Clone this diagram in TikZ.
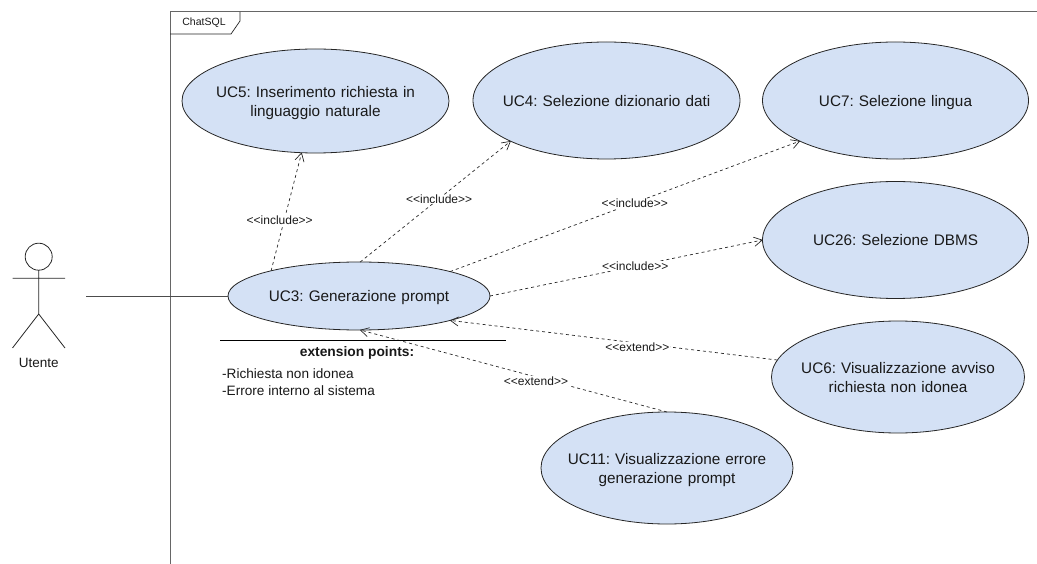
\documentclass[tikz,border=0pt]{standalone}
\usepackage{fontspec}
\setmainfont{Liberation Sans}
\usetikzlibrary{arrows.meta,shapes.geometric}
\definecolor{ucfill}{HTML}{D4E1F5}
\definecolor{framec}{HTML}{666666}
\frenchspacing
\newcommand{\uctext}[1]{\raisebox{-5.4pt}[0pt][0pt]{\begin{tabular}[c]{@{}c@{}}#1\end{tabular}}}
\tikzset{
  x=1pt,y=-1pt,
  uc/.style={ellipse,draw=black!85,fill=ucfill,line width=.8pt,inner sep=0pt,outer sep=0pt,
    font=\fontsize{15.3}{19}\selectfont,text=black!90,text width=0pt,align=center},
  dep/.style={draw=black!85,line width=.7pt,dash pattern=on 3pt off 3pt,-{Straight Barb[length=8pt,width=9pt,line width=.7pt,round]}},
  lab/.style={font=\fontsize{12}{14}\selectfont,fill=white,inner sep=.5pt,text=black!90},
  txt/.style={font=\fontsize{13.6}{17}\selectfont,text=black!90,inner sep=0pt},
  assoc/.style={draw=black!70,line width=.9pt},
  stick/.style={draw=black!85,line width=.8pt},
}
\begin{document}
\begin{tikzpicture}
\useasboundingbox (0,0) rectangle (1037,564);
% frame
\draw[framec,line width=1pt] (170,564) -- (170,12) -- (1037,12);
\draw[black!85,line width=.7pt] (170,34) -- (231,34) -- (240,21) -- (240,12);
\node[font=\fontsize{10.5}{12}\selectfont,inner sep=0pt,text=black!90] (sys) at (204,23) {ChatSQL};
% use cases
\node[uc,minimum width=267pt,minimum height=104pt] (uc5) at (315.5,101) {\makebox[0pt]{\uctext{UC5: Inserimento richiesta in\\linguaggio naturale}}};
\node[uc,minimum width=267pt,minimum height=117pt] (uc4) at (606.5,100.5) {\makebox[0pt]{\uctext{UC4: Selezione dizionario dati}}};
\node[uc,minimum width=266pt,minimum height=117pt] (uc7) at (895.5,100.5) {\makebox[0pt]{\uctext{UC7: Selezione lingua}}};
\node[uc,minimum width=266pt,minimum height=117pt] (uc26) at (895.5,240) {\makebox[0pt]{\uctext{UC26: Selezione DBMS}}};
\node[uc,minimum width=253pt,minimum height=112pt] (uc6) at (898,377) {\makebox[0pt]{\uctext{UC6: Visualizzazione avviso\\richiesta non idonea}}};
\node[uc,minimum width=252pt,minimum height=112pt] (uc11) at (667,468) {\makebox[0pt]{\uctext{UC11: Visualizzazione errore\\generazione prompt}}};
\node[uc,minimum width=262pt,minimum height=68pt] (uc3) at (359,296) {\makebox[0pt]{\raisebox{-.6pt}{\uctext{UC3: Generazione prompt}}}};
% actor
\node[circle,stick,minimum size=27pt,inner sep=0pt,outer sep=0pt] (head) at (38.7,256.7) {};
\coordinate (hip) at (38.7,314);
\coordinate (shl) at (12.5,278.3);
\coordinate (shr) at (65,278.3);
\coordinate (ftl) at (12.5,348);
\coordinate (ftr) at (65,348);
\draw[stick] (head.south) -- (hip) (shl) -- (shr) (ftl) -- (hip) -- (ftr);
\node[font=\fontsize{13.5}{16}\selectfont,inner sep=0pt,text=black!90] (utente) at (38.7,363) {Utente};
\coordinate (assocstart) at (86,296);
\draw[assoc] (assocstart) -- (uc3.west);
% extension points
\coordinate (exl) at (220,340.5);
\coordinate (exr) at (506,340.5);
% connectors
\draw[dep] (uc3.164.8) -- node[lab,pos=.43,xshift=-4.5pt] (l5) {<{}<include>{}>} (uc5.-105.1);
\draw[dep] (uc3.88) -- node[lab,pos=.525,yshift=-1pt] (l4) {<{}<include>{}>} (uc4.203.5);
\draw[dep] (uc3.15.6) -- node[lab,pos=.528,yshift=-1pt] (l7) {<{}<include>{}>} (uc7.203.2);
\draw[dep] (uc3.east) -- node[lab,pos=.533] (l26) {<{}<include>{}>} (uc26.west);
\draw[dep] (uc6.172.9) -- node[lab,pos=.428,yshift=-4pt] (l6) {<{}<extend>{}>} (uc3.-15);
\draw[dep] (uc11.north) -- node[lab,pos=.427,yshift=-4pt] (l11) {<{}<extend>{}>} (uc3.-88);
\draw[black,line width=1.5pt] (exl) -- (exr);
\node[txt,font=\fontsize{13.8}{16}\selectfont\bfseries] (extitle) at (357,353) {extension points:};
\node[txt,anchor=west] (ex1) at (222,373.5) {-Richiesta non idonea};
\node[txt,anchor=west] (ex2) at (222,391) {-Errore interno al sistema};
\end{tikzpicture}
\end{document}
